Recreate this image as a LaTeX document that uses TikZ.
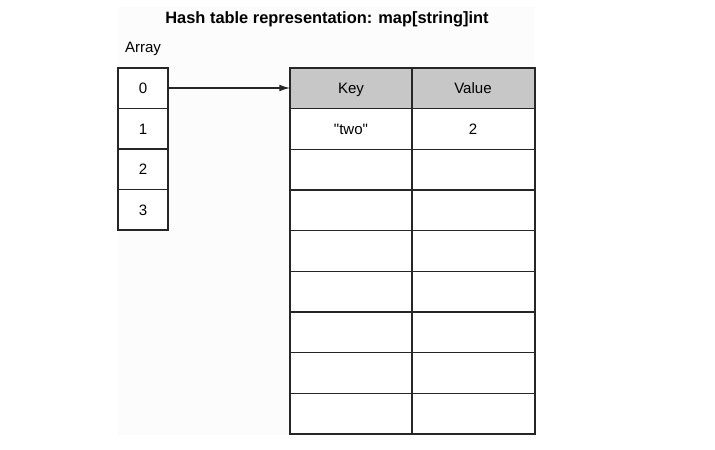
\documentclass[tikz,border=0pt]{standalone}
\usepackage{fontspec}
\setmainfont{Liberation Sans}[Ligatures=TeXOff]
\usetikzlibrary{arrows.meta}
\begin{document}
\begin{tikzpicture}[x=0.75pt,y=-0.75pt,
  cellline/.style={draw=black!85,line width=1pt},
  hdr/.style={fill=black!22},
  lbl/.style={font=\fontsize{11.3}{13}\selectfont,inner sep=0pt,text height=8.2pt,text depth=0pt},
  ptr/.style={draw=black!85,line width=0.9pt,-{Latex[length=8pt,width=5pt]}}]
  \useasboundingbox (0,0) rectangle (715,450);
  % faint paper area
  \fill[black!1] (118,7) rectangle (535,435);
  % title
  \node[font=\fontsize{12.3}{14}\selectfont\bfseries,inner sep=0pt,text height=9pt,text depth=0pt] (title) at (327,17) {Hash table representation: map[string]int};
  \node[lbl] (arrlbl) at (143,47) {Array};
  % array cells
  \foreach \i in {0,...,3} {
    \pgfmathsetmacro{\ya}{68+40.5*\i}
    \pgfmathsetmacro{\yb}{68+40.5*(\i+1)}
    \draw[cellline,fill=white] (118,\ya) rectangle (168,\yb);
    \node[lbl] (a\i) at (143,{(\ya+\yb)/2}) {\i};
  }
  % hash table
  \fill[hdr] (290,68) rectangle (535,108.7);
  \foreach \j in {1,...,8} {
    \pgfmathsetmacro{\ya}{68+40.67*\j}
    \pgfmathsetmacro{\yb}{68+40.67*(\j+1)}
    \fill[white] (290,\ya) rectangle (535,\yb);
  }
  \foreach \j in {1,...,8} {
    \draw[cellline] (290,{68+40.67*\j}) -- (535,{68+40.67*\j});
  }
  \draw[cellline] (290,68) rectangle (535,434);
  \draw[cellline] (412,68) -- (412,434);
  \node[lbl] (keyh) at (351,88) {Key};
  \node[lbl] (valh) at (473,88) {Value};
  \node[lbl] (k1) at (351,129) {"two"};
  \node[lbl] (v1) at (473,129) {2};
  \coordinate (tbl) at (290,88);
  \coordinate (src) at (168,88);
  \draw[ptr] (src) -- (tbl);
\end{tikzpicture}
\end{document}
